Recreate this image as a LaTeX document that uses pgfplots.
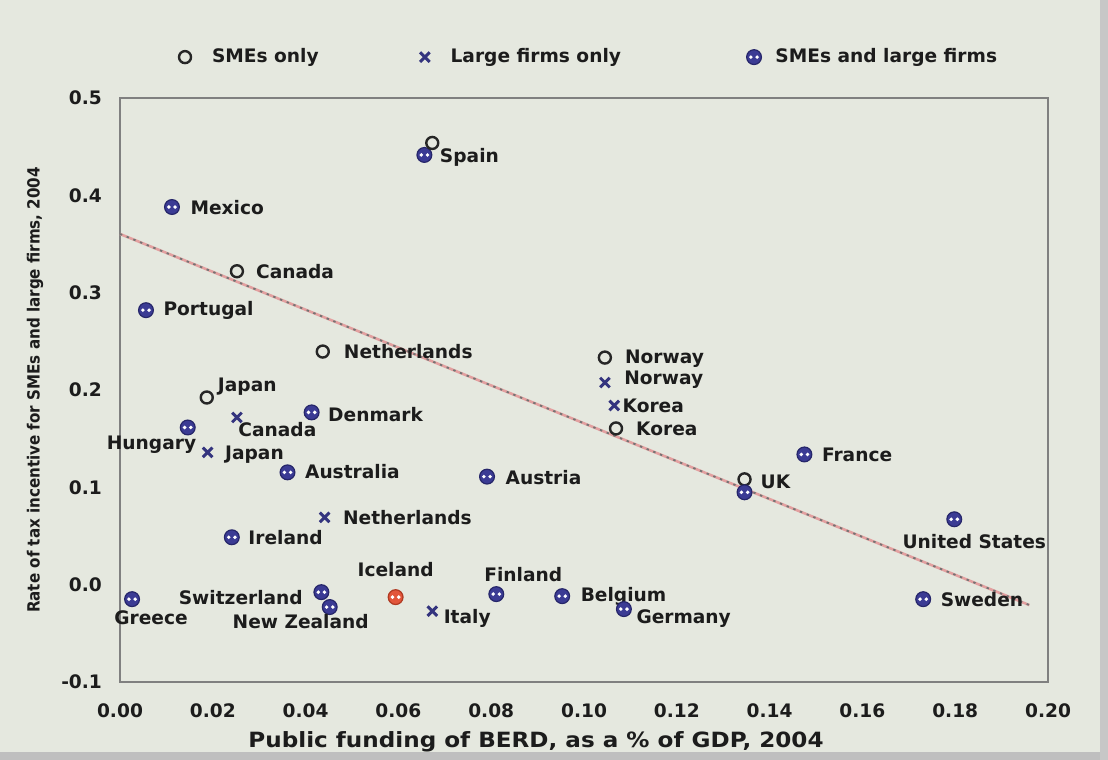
\documentclass[border=0pt]{standalone}
\usepackage{fontspec}
\setmainfont{DejaVu Sans}
\newfontfamily\condfont{DejaVu Sans Condensed}
\usepackage{pgfplots}
\pgfplotsset{compat=1.18}
\definecolor{bg}{HTML}{E5E8DF}
\definecolor{bothfill}{HTML}{3B3B94}
\definecolor{bothdraw}{HTML}{26266A}
\definecolor{icefill}{HTML}{E2553A}
\definecolor{icedraw}{HTML}{B03A22}
\definecolor{xcol}{HTML}{34347E}
\definecolor{trend}{HTML}{E3A0A0}
\definecolor{lab}{HTML}{1C1C1C}

\pgfdeclareplotmark{both}{%
  \pgfpathcircle{\pgfpointorigin}{\pgfplotmarksize}%
  \pgfusepathqfillstroke
  \begin{pgfscope}%
  \pgfsetfillcolor{white}%
  \pgfpathcircle{\pgfqpoint{-0.42\pgfplotmarksize}{0pt}}{0.26\pgfplotmarksize}%
  \pgfpathcircle{\pgfqpoint{0.42\pgfplotmarksize}{0pt}}{0.26\pgfplotmarksize}%
  \pgfusepathqfill
  \end{pgfscope}%
}

\pgfplotsset{
  lbl/.style={
    nodes near coords, point meta=explicit symbolic,
    visualization depends on={value \thisrow{anc} \as \anc},
    visualization depends on={\thisrow{dx} \as \dx},
    visualization depends on={\thisrow{dy} \as \dy},
    every node near coord/.append style={anchor=\anc, xshift=\dx pt, yshift=\dy pt,
      inner sep=0pt, text=lab, font=\bfseries\fontsize{9.3}{11}\selectfont},
  },
}

\begin{document}
\begin{tikzpicture}[font=\bfseries\fontsize{9.3}{11}\selectfont]
\fill[bg] (-60pt,-39pt) rectangle (494pt,341pt);
\fill[black!25] (-60pt,-39pt) rectangle (494pt,-35pt);
\fill[black!22] (490pt,-39pt) rectangle (494pt,341pt);
\begin{axis}[
  at={(0,0)}, anchor=south west,
  scale only axis, width=464pt, height=292pt,
  xmin=0, xmax=0.2, ymin=-0.1, ymax=0.5,
  xtick={0,0.02,0.04,0.06,0.08,0.10,0.12,0.14,0.16,0.18,0.20},
  ytick={-0.1,0,0.1,0.2,0.3,0.4,0.5},
  xticklabel style={/pgf/number format/.cd, fixed, fixed zerofill, precision=2, assume math mode=true, /tikz/.cd, yshift=-7.5pt, text=lab},
  yticklabel style={/pgf/number format/.cd, fixed, fixed zerofill, precision=1, assume math mode=true, /tikz/.cd, xshift=-5.5pt, text=lab},
  major tick length=0pt,
  axis line style={draw=black!50, line width=1pt},
  axis background/.style={fill=bg},
  xlabel={\scalebox{1.1}[1]{Public funding of BERD, as a \% of GDP, 2004}},
  xlabel style={at={(axis description cs:0.5,0)}, anchor=center, yshift=-30pt, xshift=-24pt, font=\bfseries\fontsize{10.5}{12}\selectfont, text=lab},
  ylabel={Rate of tax incentive for SMEs and large firms, 2004},
  ylabel style={at={(axis description cs:-0.0916,0.5)}, anchor=center, font=\condfont\bfseries\fontsize{8.4}{10}\selectfont, text=lab},
  legend columns=3,
  legend style={draw=none, fill=none, at={(0.0567,1.07)}, anchor=west,
    font=\bfseries\fontsize{9.3}{11}\selectfont, text=lab,
    /tikz/every even column/.append style={column sep=0pt}},
  clip=false,
]
% trend line
\addplot[forget plot, trend, line width=1.3pt] coordinates {(0,0.3603) (0.196,-0.021)};
\addplot[forget plot, black!55, line width=0.9pt, dash pattern=on 1.2pt off 2.4pt] coordinates {(0,0.3603) (0.196,-0.021)};

% SMEs only
\addplot[only marks, mark=o, mark size=3pt, mark options={draw=black!85, line width=1.2pt}, lbl]
  table[col sep=comma, meta=label] {
x,y,label,anc,dx,dy
0.0252,0.3220,Canada,west,9,0
0.0437,0.2395,Netherlands,west,10,0
0.0187,0.1923,Japan,west,5,5.5
0.1045,0.2333,Norway,west,9.5,-0.5
0.1069,0.1605,Korea,west,9.5,0
0.1346,0.1082,UK,west,7.5,-1
};
\addlegendentry{\hspace*{8.5pt}\makebox[102pt][l]{SMEs only}}

% Large firms only
\addplot[only marks, mark=x, mark size=3.4pt, mark options={draw=xcol, line width=1.5pt}, lbl]
  table[col sep=comma, meta=label] {
x,y,label,anc,dx,dy
0.0252,0.1718,Canada,west,0,-6
0.0189,0.1359,Japan,west,8,-1
0.0441,0.0692,Netherlands,west,8.5,0
0.1045,0.2077,Norway,west,9,1.5
0.1065,0.1841,Korea,west,3.5,0
0.0673,-0.0272,Italy,west,5,-3.5
};
\addlegendentry{\hspace*{8.5pt}\makebox[146pt][l]{Large firms only}}

% SMEs and large firms
\addplot[only marks, mark=both, mark size=3.7pt, mark options={fill=bothfill, draw=bothdraw, line width=0.6pt}, lbl]
  table[col sep=comma, meta=label] {
x,y,label,anc,dx,dy
0.0656,0.4415,Spain,west,7.5,-1
0.0112,0.3880,Mexico,west,9,-0.5
0.0056,0.2820,Portugal,west,8.5,0
0.0146,0.1615,Hungary,east,4.5,-8.5
0.0413,0.1770,Denmark,west,8,-1
0.0361,0.1154,Australia,west,8.5,0.5
0.0791,0.1110,Austria,west,9,-0.5
0.0241,0.0487,Ireland,west,8,0
0.0026,-0.0149,Greece,center,9.5,-9.5
0.0434,-0.0077,Switzerland,east,-9,-2.5
0.0452,-0.0230,New Zealand,center,-14.5,-7.5
0.0811,-0.0097,Finland,center,13.5,10
0.0953,-0.0118,Belgium,west,9,0
0.1086,-0.0251,Germany,west,6,-5
0.1475,0.1338,France,west,8.5,0
0.1798,0.0672,United States,center,10,-11
0.1731,-0.0149,Sweden,west,8.5,0
};
\addlegendentry{\hspace*{5pt}SMEs and large firms}

% unlabelled points (their labels are on the companion marker)
\addplot[forget plot, only marks, mark=both, mark size=3.7pt, mark options={fill=bothfill, draw=bothdraw, line width=0.6pt}]
  coordinates {(0.1346,0.0949)};
\addplot[forget plot, only marks, mark=o, mark size=3pt, mark options={draw=black!85, line width=1.2pt}]
  coordinates {(0.0673,0.4538)};

% Iceland (highlighted)
\addplot[forget plot, only marks, mark=both, mark size=3.7pt, mark options={fill=icefill, draw=icedraw, line width=0.6pt}, lbl]
  table[col sep=comma, meta=label] {
x,y,label,anc,dx,dy
0.0594,-0.0128,Iceland,center,0,14
};
\end{axis}
\end{tikzpicture}
\end{document}
